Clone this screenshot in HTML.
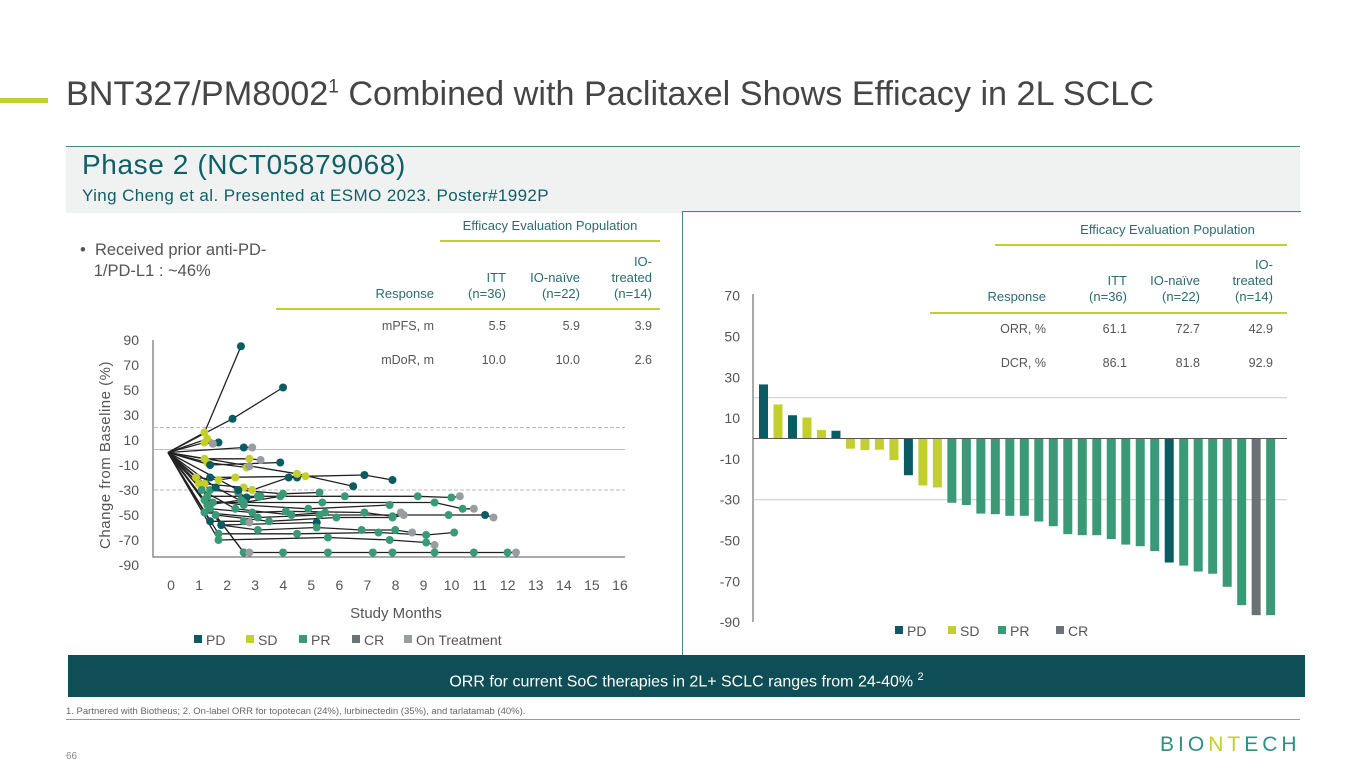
<!DOCTYPE html>
<html><head><meta charset="utf-8">
<style>
body{margin:0;width:1365px;height:768px;background:#fff;overflow:hidden;position:relative;font-family:"Liberation Sans",sans-serif;}
.a{position:absolute;}
.th{position:absolute;font-size:13px;color:#2c6a70;text-align:right;line-height:16px;}
.td{position:absolute;font-size:12.5px;color:#555;text-align:right;}
</style></head><body>
<div class="a" style="left:0;top:98px;width:48px;height:5px;background:#c3cf2d"></div>
<div class="a" style="left:66px;top:75px;font-size:34.2px;color:#454545;white-space:nowrap">BNT327/PM8002<sup style="font-size:19px">1</sup> Combined with Paclitaxel Shows Efficacy in 2L SCLC</div>
<div class="a" style="left:66px;top:146px;width:1234px;height:66px;background:#f0f2f2;border-top:1.5px solid #4f7f83"></div>
<div class="a" style="left:82px;top:149px;font-size:28px;letter-spacing:0.6px;color:#0e5f66;white-space:nowrap">Phase 2 (NCT05879068)</div>
<div class="a" style="left:82px;top:186px;font-size:17px;letter-spacing:0.4px;color:#0e5f66;white-space:nowrap">Ying Cheng et al. Presented at ESMO 2023. Poster#1992P</div>
<div class="a" style="left:682px;top:211px;width:618px;height:444px;border-left:1.5px solid #4f7f83;border-top:1.5px solid #4f7f83"></div>

<div class="a" style="left:80px;top:240px;font-size:16.5px;color:#555;line-height:21px;white-space:nowrap">•&nbsp;&nbsp;Received prior anti-PD-<br>&nbsp;&nbsp;&nbsp;1/PD-L1 : ~46%</div>

<!-- left table -->
<div class="th" style="left:440px;top:218px;width:220px;text-align:center">Efficacy Evaluation Population</div>
<div class="a" style="left:440px;top:240px;width:220px;height:2px;background:#c3cf2d"></div>
<div class="th" style="left:330px;top:286px;width:104px">Response</div>
<div class="th" style="left:440px;top:270px;width:66px">ITT<br>(n=36)</div>
<div class="th" style="left:510px;top:270px;width:70px">IO-naïve<br>(n=22)</div>
<div class="th" style="left:590px;top:254px;width:62px">IO-<br>treated<br>(n=14)</div>
<div class="a" style="left:276px;top:308px;width:384px;height:2px;background:#c3cf2d"></div>
<div class="td" style="left:330px;top:319px;width:104px">mPFS, m</div>
<div class="td" style="left:440px;top:319px;width:66px">5.5</div>
<div class="td" style="left:510px;top:319px;width:70px">5.9</div>
<div class="td" style="left:590px;top:319px;width:62px">3.9</div>
<div class="td" style="left:330px;top:353px;width:104px">mDoR, m</div>
<div class="td" style="left:440px;top:353px;width:66px">10.0</div>
<div class="td" style="left:510px;top:353px;width:70px">10.0</div>
<div class="td" style="left:590px;top:353px;width:62px">2.6</div>

<!-- right table -->
<div class="th" style="left:1055px;top:222px;width:225px;text-align:center">Efficacy Evaluation Population</div>
<div class="a" style="left:995px;top:244px;width:292px;height:2px;background:#c3cf2d"></div>
<div class="th" style="left:940px;top:289px;width:106px">Response</div>
<div class="th" style="left:1060px;top:273px;width:67px">ITT<br>(n=36)</div>
<div class="th" style="left:1130px;top:273px;width:70px">IO-naïve<br>(n=22)</div>
<div class="th" style="left:1210px;top:257px;width:63px">IO-<br>treated<br>(n=14)</div>
<div class="a" style="left:930px;top:312px;width:357px;height:2px;background:#c3cf2d"></div>
<div class="td" style="left:940px;top:322px;width:106px">ORR, %</div>
<div class="td" style="left:1060px;top:322px;width:67px">61.1</div>
<div class="td" style="left:1130px;top:322px;width:70px">72.7</div>
<div class="td" style="left:1210px;top:322px;width:63px">42.9</div>
<div class="td" style="left:940px;top:356px;width:106px">DCR, %</div>
<div class="td" style="left:1060px;top:356px;width:67px">86.1</div>
<div class="td" style="left:1130px;top:356px;width:70px">81.8</div>
<div class="td" style="left:1210px;top:356px;width:63px">92.9</div>

<svg class="a" style="left:0;top:0" width="1365" height="768" id="svg"></svg>

<div class="a" style="left:68px;top:655px;width:1237px;height:42px;background:#0f4e56;color:#fff;font-size:16px;text-align:center;line-height:44px">ORR for current SoC therapies in 2L+ SCLC ranges from 24-40% <sup style="font-size:11px">2</sup></div>
<div class="a" style="left:66px;top:706px;font-size:9.5px;color:#666">1. Partnered with Biotheus; 2. On-label ORR for topotecan (24%), lurbinectedin (35%), and tarlatamab (40%).</div>
<div class="a" style="left:66px;top:719px;width:1234px;height:1px;background:#999"></div>
<div class="a" style="left:66px;top:751px;font-size:10px;color:#888">66</div>
<div class="a" style="left:1160px;top:733px;font-size:21px;color:#2e8f83;letter-spacing:4px;font-weight:normal">BIO<span style="color:#c3cf2d">NT</span>ECH</div>

<script>
// ---------- waterfall data ----------
const wfValues=[26.5,16.7,11.4,10.3,4.2,3.8,-5,-5.7,-5.5,-10.6,-18,-23,-24,-31.5,-32.6,-36.8,-37.1,-37.9,-37.9,-40.7,-43,-46.9,-47.4,-47.4,-49.3,-52,-52.8,-55.2,-60.8,-62.3,-65.2,-66.3,-72.7,-81.7,-86.6,-86.6];
const wfStatus=['PD','SD','PD','SD','SD','PD','SD','SD','SD','SD','PD','SD','SD','PR','PR','PR','PR','PR','PR','PR','PR','PR','PR','PR','PR','PR','PR','PR','PD','PR','PR','PR','PR','PR','CR','PR'];
const wfTicks=[70,50,30,10,-10,-30,-50,-70,-90];
// ---------- spider data ----------
const spiderLines=[
[[0,0],[1.3,16,'SD'],[2.6,85,'PD']],
[[0,0],[2.3,27,'PD'],[4.1,52,'PD']],
[[0,0],[1.4,11,'SD'],[1.8,8,'PD']],
[[0,0],[1.3,8,'SD'],[1.6,7,'OT']],
[[0,0],[2.7,4,'PD'],[3.0,4,'OT']],
[[0,0],[1.3,-5,'SD'],[2.9,-5,'SD'],[3.3,-6,'OT']],
[[0,0],[1.4,-8,'SD'],[2.8,-12,'SD'],[2.9,-11,'OT']],
[[0,0],[1.5,-10,'PD'],[4.0,-8,'PD']],
[[0,0],[1.1,-25,'SD'],[1.5,-20,'PD'],[4.9,-19,'SD'],[7.0,-18,'PD'],[8.0,-22,'PD']],
[[0,0],[1.3,-25,'SD'],[2.7,-28,'SD'],[3.0,-30,'SD'],[4.3,-20,'PD'],[4.6,-20,'PD']],
[[0,0],[4.6,-17,'SD'],[6.6,-27,'PD']],
[[0,0],[1.4,-35,'PR'],[3.3,-35,'PR'],[6.3,-35,'PR'],[8.9,-35,'PR'],[10.1,-36,'PR'],[10.4,-35,'OT']],
[[0,0],[1.6,-40,'PR'],[5.5,-40,'PR'],[9.5,-40,'PR'],[10.5,-45,'PR'],[10.9,-45,'OT']],
[[0,0],[1.5,-45,'PR'],[3.0,-48,'PR'],[4.2,-47,'PR'],[7.0,-48,'PR'],[8.0,-51,'PR'],[8.3,-48,'OT']],
[[0,0],[1.3,-48,'PR'],[3.2,-52,'PR'],[5.4,-50,'PR'],[10.0,-50,'PR'],[11.3,-50,'PD'],[11.6,-52,'OT']],
[[0,0],[1.7,-50,'PR'],[3.6,-55,'PR'],[6.0,-52,'PR'],[8.0,-52,'PR'],[8.4,-50,'OT']],
[[0,0],[1.9,-58,'PR'],[5.3,-56,'PD']],
[[0,0],[1.9,-58,'PD'],[3.2,-62,'PR'],[5.3,-60,'PR'],[6.9,-62,'PR'],[8.1,-62,'PR'],[8.7,-64,'OT']],
[[0,0],[1.8,-65,'PR'],[4.6,-65,'PR'],[7.5,-64,'PR'],[9.2,-66,'PR'],[10.2,-64,'PR']],
[[0,0],[1.8,-70,'PR'],[5.7,-68,'PR'],[7.9,-70,'PR'],[9.2,-72,'PR'],[9.5,-74,'OT']],
[[0,0],[2.7,-80,'CR'],[4.1,-80,'PR'],[5.7,-80,'PR'],[7.3,-80,'PR'],[8.0,-80,'PR'],[9.5,-80,'PR'],[10.9,-80,'PR'],[12.1,-80,'PR'],[12.4,-80,'OT']],
[[0,0],[2.7,-80,'PR'],[2.9,-80,'OT']],
[[0,0],[1.5,-30,'PR'],[2.5,-32,'PR'],[2.8,-36,'PD']],
[[0,0],[1.7,-28,'PD'],[2.7,-40,'PR'],[4.0,-35,'PR']],
[[0,0],[1.3,-38,'PR'],[2.7,-42,'PR'],[5.0,-45,'PR'],[7.9,-42,'PR']],
[[0,0],[1.5,-55,'PD'],[2.7,-55,'PR'],[2.9,-56,'OT']],
[[0,0],[2.5,-30,'PD'],[4.1,-33,'PR'],[5.4,-32,'PR']],
[[0,0],[1.0,-20,'SD'],[1.8,-22,'SD'],[2.4,-20,'SD']],
[[0,0],[1.2,-30,'PR'],[2.4,-45,'PR'],[4.4,-50,'PR'],[5.6,-48,'PR']],
[[0,0],[1.4,-42,'PR'],[2.6,-38,'PR'],[3.2,-35,'PR']]
];
const spYTicks=[90,70,50,30,10,-10,-30,-50,-70,-90];
const spXTicks=[0,1,2,3,4,5,6,7,8,9,10,11,12,13,14,15,16];
const colors={PD:'#0b5b63',SD:'#c3cf2d',PR:'#3a9a78',CR:'#6b7275',OT:'#999da0'};

const svg=document.getElementById('svg');
const NS='http://www.w3.org/2000/svg';
function mk(tag,attrs,parent){const e=document.createElementNS(NS,tag);for(const k in attrs)e.setAttribute(k,attrs[k]);(parent||svg).appendChild(e);return e;}
function txt(x,y,s,size,anchor,fill,parent){const t=mk('text',{x:x,y:y,'font-size':size,'text-anchor':anchor,fill:fill,'font-family':'Liberation Sans, sans-serif'},parent);t.textContent=s;return t;}

// ---------- waterfall ----------
const wy=v=>438.5-v*2.04;
const wx=i=>759+i*14.49;
const wg=mk('g',{});


[20,-30].forEach(v=>{const l=mk('line',{x1:754,x2:1287,y1:wy(v),y2:wy(v),stroke:'#cfcfcf','stroke-width':1.2},wg);});
wfTicks.forEach(v=>{const t=txt(740,wy(v)+5,String(v),14,'end','#555',wg);});
wfValues.forEach((v,i)=>{const y0=wy(0),y1=wy(v);const r=mk('rect',{x:wx(i),y:Math.min(y0,y1),width:9,height:Math.abs(y1-y0),fill:colors[wfStatus[i]]},wg);});
const wax=mk('line',{x1:753,x2:753,y1:294,y2:622,stroke:'#555','stroke-width':1},wg);
const wz=mk('line',{x1:753,x2:1287,y1:wy(0),y2:wy(0),stroke:'#555','stroke-width':1},wg);
[['PD',895],['SD',948],['PR',998],['CR',1056]].forEach(([k,x])=>{const g=mk('g',{},wg);mk('rect',{x:x,y:626,width:8,height:8,fill:colors[k]},g);txt(x+12,636,k,14,'start','#555',g);});

// ---------- spider ----------
const sx=m=>168+m*28.06;
const sy=v=>452.5-v*1.25;
const sg=mk('g',{});


[20,-30].forEach(v=>{const l=mk('line',{x1:154,x2:625,y1:sy(v),y2:sy(v),stroke:'#bbb','stroke-width':1,'stroke-dasharray':'4,2'},sg);});
const sz=mk('line',{x1:154,x2:625,y1:sy(0)-3,y2:sy(0)-3,stroke:'#bbb','stroke-width':1},sg);
spYTicks.forEach(v=>{const t=txt(139,sy(v)+5,String(v),14,'end','#555',sg);});
spXTicks.forEach(m=>{const t=txt(sx(m)+3,590,String(m),14,'middle','#555',sg);});
spiderLines.forEach(pts=>{const d=pts.map((p,i)=>(i?'L':'M')+sx(p[0]).toFixed(1)+','+sy(p[1]).toFixed(1)).join(' ');const l=mk('path',{d:d,fill:'none',stroke:'#222','stroke-width':1.3},sg);});
spiderLines.forEach(pts=>pts.slice(1).forEach(p=>{const c=mk('circle',{cx:sx(p[0]),cy:sy(p[1]),r:4,fill:colors[p[2]]},sg);}));
const sax=mk('path',{d:'M153,340 L153,557 L625,557',fill:'none',stroke:'#555','stroke-width':1},sg);
const xt=txt(396,618,'Study Months',15,'middle','#555',sg);
const yt=txt(0,0,'Change from Baseline (%)',15,'middle','#555',sg);yt.setAttribute('transform','translate(110,455) rotate(-90)');yt.setAttribute('letter-spacing','0.5');
[['PD','PD',194],['SD','SD',246],['PR','PR',299],['CR','CR',352],['OT','On Treatment',404]].forEach(([k,lab,x])=>{const g=mk('g',{},sg);mk('rect',{x:x,y:635,width:8,height:8,fill:colors[k]},g);txt(x+12,645,lab,14,'start','#555',g);});
</script>
</body></html>
